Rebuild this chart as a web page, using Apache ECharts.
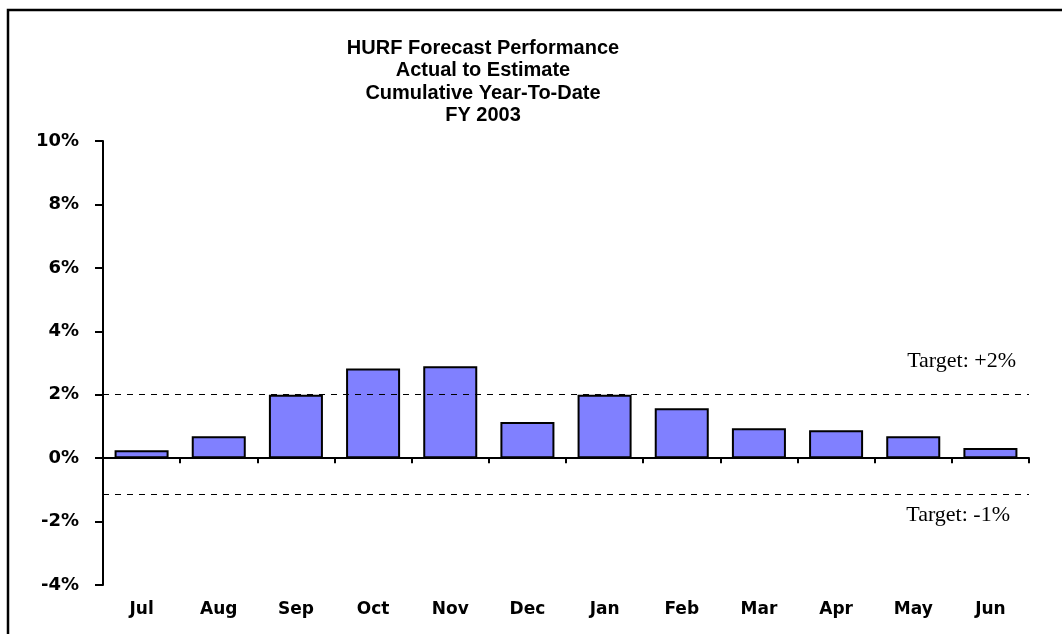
<!DOCTYPE html>
<html>
<head>
<meta charset="utf-8">
<script src="https://cdn.jsdelivr.net/npm/echarts@6/dist/echarts.min.js"></script>
<style>
  html, body { margin: 0; padding: 0; background: #fff; }
  #chart { width: 1062px; height: 634px; }
</style>
</head>
<body>
<div id="chart"></div>
<script>
// data
const months = ['Jul', 'Aug', 'Sep', 'Oct', 'Nov', 'Dec', 'Jan', 'Feb', 'Mar', 'Apr', 'May', 'Jun'];
const ytdPct = [0.25, 0.69, 2.0, 2.83, 2.9, 1.14, 2.0, 1.57, 0.94, 0.88, 0.69, 0.32];
const targetHigh = 2;
const targetLow = -1.15;
const yTicks = [-4, -2, 0, 2, 4, 6, 8, 10];

const chart = echarts.init(document.getElementById('chart'));

const labelFont = 'DejaVu Sans, Arial, sans-serif';

const option = {
  backgroundColor: '#fff',
  animation: false,
  title: {
    text: 'HURF Forecast Performance\nActual to Estimate\nCumulative Year-To-Date\nFY 2003',
    left: 478,
    textAlign: 'center',
    top: 32,
    textStyle: {
      fontFamily: 'Liberation Sans, Arial, sans-serif',
      fontWeight: 'bold',
      fontSize: 20,
      lineHeight: 22.5,
      color: '#000'
    }
  },
  grid: {left: 103, right: 33, top: 141, bottom: 49, containLabel: false, outerBoundsMode: 'none'},
  xAxis: [
    {
      // line at 0% with ticks between months
      type: 'category',
      data: months,
      axisLine: {onZero: true, lineStyle: {color: '#000', width: 2}},
      axisTick: {show: true, length: 5, lineStyle: {color: '#000', width: 2}},
      axisLabel: {show: false},
      splitLine: {show: false}
    },
    {
      // month names along the bottom
      type: 'category',
      data: months,
      position: 'bottom',
      axisLine: {show: false, onZero: false},
      axisTick: {show: false},
      axisLabel: {
        margin: 16,
        color: '#000',
        fontFamily: labelFont,
        fontWeight: 'bold',
        fontSize: 17
      },
      splitLine: {show: false}
    }
  ],
  yAxis: {
    type: 'value',
    min: yTicks[0],
    max: yTicks[yTicks.length - 1],
    interval: 2,
    axisLine: {show: true, lineStyle: {color: '#000', width: 2}},
    axisTick: {show: true, length: 8, lineStyle: {color: '#000', width: 2}},
    axisLabel: {
      margin: 24,
      formatter: '{value}%',
      color: '#000',
      fontFamily: labelFont,
      fontWeight: 'bold',
      fontSize: 18
    },
    splitLine: {show: false}
  },
  series: [
    {
      type: 'bar',
      data: ytdPct,
      barWidth: '70%',
      itemStyle: {color: '#8080ff', borderColor: '#000', borderWidth: 2},
      markLine: {
        silent: true,
        symbol: 'none',
        label: {show: false},
        lineStyle: {color: '#000', width: 1, type: [6, 6]},
        data: [{yAxis: targetHigh}, {yAxis: targetLow}]
      }
    }
  ],
  graphic: [
    {
      type: 'rect',
      shape: {x: 8, y: 10, width: 1100, height: 700},
      style: {fill: 'none', stroke: '#000', lineWidth: 2.5}
    },
    {
      type: 'text',
      right: 46,
      top: 350,
      style: {text: 'Target: +2%', font: '22px "Liberation Serif", "Times New Roman", serif', fill: '#000'}
    },
    {
      type: 'text',
      right: 52,
      top: 504,
      style: {text: 'Target: -1%', font: '22px "Liberation Serif", "Times New Roman", serif', fill: '#000'}
    }
  ]
};

chart.setOption(option);
</script>
</body>
</html>
